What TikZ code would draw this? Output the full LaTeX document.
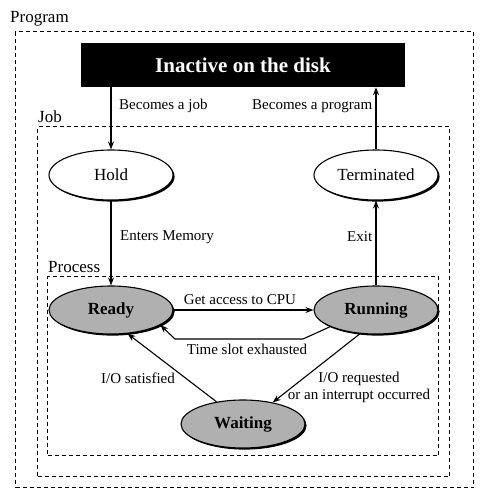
\documentclass[tikz,border=0pt]{standalone}
\usepackage{fontspec}
\setmainfont{Liberation Serif}
\usetikzlibrary{shapes.geometric,shadows,arrows.meta}
\begin{document}
\begin{tikzpicture}[x=1pt,y=-1pt,
  region/.style={draw,dashed,dash pattern=on 4pt off 3pt,line width=1.2pt,minimum width=#1,inner sep=0pt,anchor=north west},
  state/.style={ellipse,draw,line width=1.1pt,minimum width=124pt,minimum height=50pt,inner sep=0pt,fill=white,
     font=\fontsize{17}{20}\selectfont,
     drop shadow={shadow xshift=1.6pt,shadow yshift=-1.6pt,fill=black,opacity=1}},
  pstate/.style={state,fill=gray!62,minimum height=48pt,font=\fontsize{17}{20}\selectfont\bfseries},
  lbl/.style={font=\fontsize{15}{17}\selectfont,inner sep=0pt},
  reglbl/.style={font=\fontsize{17}{20}\selectfont,inner sep=0pt,anchor=west},
  arr/.style={-{Stealth[length=8pt,width=6pt]},line width=1.1pt}
]
\useasboundingbox (0,0) rectangle (489,499);
\node[region=458pt,minimum height=456pt] (prog) at (15,31) {};
\node[region=412pt,minimum height=350pt] (job) at (37,126) {};
\node[region=391pt,minimum height=179pt] (proc) at (47,276) {};
\node[reglbl] (progl) at (10,19) {Program};
\node[reglbl] (jobl) at (38,117) {Job};
\node[reglbl] (procl) at (48,267) {Process};

\node[fill=black,minimum width=324pt,minimum height=44pt,inner sep=0pt,text=white,
  font=\fontsize{21}{24}\selectfont\bfseries] (disk) at (243,65) {Inactive on the disk};

\node[state] (hold) at (111,175) {Hold};
\node[state] (term) at (376,175) {Terminated};
\node[pstate] (ready) at (111,310) {Ready};
\node[pstate] (run) at (376,310) {Running};
\node[pstate] (wait) at (243,424) {Waiting};

\draw[arr] (disk.south -| hold) -- (hold.north);
\draw[arr] (term.north) -- (term.north |- disk.south);
\draw[arr] (hold.south) -- (ready.north);
\draw[arr] (run.north) -- (term.south);
\draw[arr] (ready.east) -- (run.west);
\coordinate (t1) at (303,339);
\coordinate (t2) at (175,339);
\draw[arr] (run.200) -- (t1) -- (t2) -- (ready.-17);
\draw[arr] (wait.140) -- (ready.-55);
\draw[arr] (run.236) -- (wait.36);

\node[lbl,anchor=west] (l1) at (119,106) {Becomes a job};
\node[lbl,anchor=west] (l2) at (252,106) {Becomes a program};
\node[lbl,anchor=west] (l3) at (120,237) {Enters Memory};
\node[lbl,anchor=west] (l4) at (347,237) {Exit};
\node[lbl] (l5) at (240,300) {Get access to CPU};
\node[lbl] (l6) at (247,349) {Time slot exhausted};
\node[lbl] (l7) at (138,378) {I/O satisfied};
\node[lbl,align=center] (l8) at (359,387) {I/O requested\\or an interrupt occurred};
\end{tikzpicture}
\end{document}
